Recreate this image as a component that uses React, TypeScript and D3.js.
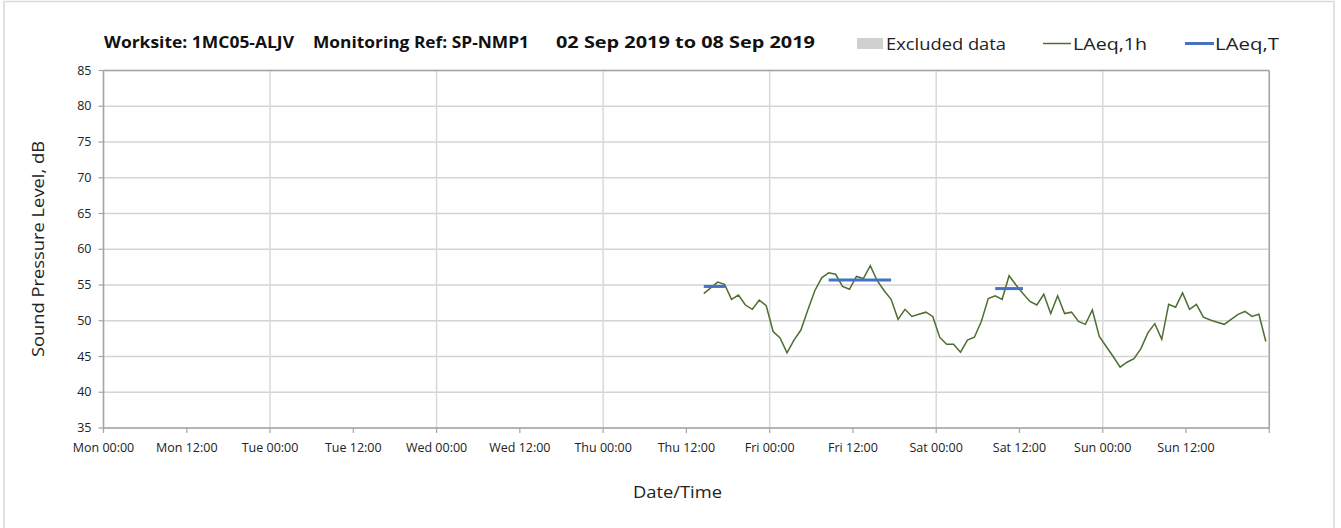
import React from "react";
import * as d3 from "d3";

const W = 1341;
const H = 528;

// Tick labels every 12 hours, Mon 00:00 .. Sun 12:00
const xTickLabels = [
  "Mon 00:00", "Mon 12:00", "Tue 00:00", "Tue 12:00", "Wed 00:00", "Wed 12:00",
  "Thu 00:00", "Thu 12:00", "Fri 00:00", "Fri 12:00", "Sat 00:00", "Sat 12:00",
  "Sun 00:00", "Sun 12:00",
];
const yTicks = [35, 40, 45, 50, 55, 60, 65, 70, 75, 80, 85];

// Hourly LAeq,1h values, first at Thu 14:30 (hour 86.5 from Mon 00:00)
const laeqStartHour = 86.5;
const laeq1h = [
  53.8, 54.6, 55.4, 55.1, 53.0, 53.6, 52.2, 51.6, 52.9, 52.1,
  48.5, 47.6, 45.5, 47.3, 48.7, 51.5, 54.2, 56.0, 56.7, 56.5,
  54.8, 54.4, 56.2, 55.9, 57.7, 55.6, 54.2, 53.0, 50.2, 51.6,
  50.6, 50.9, 51.2, 50.6, 47.7, 46.7, 46.7, 45.6, 47.3, 47.7,
  49.9, 53.1, 53.5, 53.0, 56.3, 55.0, 53.8, 52.7, 52.2, 53.7,
  51.0, 53.5, 51.0, 51.2, 49.9, 49.5, 51.5, 47.8, 46.4, 45.0,
  43.5, 44.2, 44.7, 46.1, 48.3, 49.6, 47.4, 52.3, 51.9, 53.9,
  51.6, 52.3, 50.5, 50.1, 49.8, 49.5, 50.2, 50.9, 51.3, 50.6,
  50.9, 47.1,
];

// LAeq,T periods: start hour, end hour, level
const laeqTStart = [86.5, 104.5, 128.5];
const laeqTEnd = [89.6, 113.5, 132.5];
const laeqTValue = [54.8, 55.7, 54.5];

const FONT = "'Open Sans', 'Noto Sans', sans-serif";

export default function App() {
  const left = 103.5;
  const right = 1269.3;
  const top = 70.5;
  const bottom = 428;

  const x = d3.scaleLinear().domain([0, 168]).range([left, right]);
  const y = d3.scaleLinear().domain([35, 85]).range([bottom, top]);

  const pts: [number, number][] = laeq1h.map((v, i) => [laeqStartHour + i, v]);
  const line = d3
    .line<[number, number]>()
    .x((d) => x(d[0]))
    .y((d) => y(d[1]));

  const dayTicks = d3.range(0, 169, 24);
  const halfTicks = d3.range(0, 169, 12);

  return (
    <svg
      width={W}
      height={H}
      style={{ position: "absolute", left: 0, top: 0, background: "#fff" }}
      fontFamily={FONT}
    >
      {/* outer frame */}
      <rect x={4} y={1.5} width={1330} height={540} fill="#fff" stroke="#d9d9d9" strokeWidth={1.5} />

      {/* horizontal gridlines */}
      {yTicks.map((t) => (
        <line key={"hg" + t} x1={left} x2={right} y1={y(t)} y2={y(t)} stroke="#d4d4d4" strokeWidth={1.5} />
      ))}
      {/* vertical gridlines at day boundaries */}
      {dayTicks.map((t) => (
        <line key={"vg" + t} x1={x(t)} x2={x(t)} y1={top} y2={bottom} stroke="#d9d9d9" strokeWidth={1.5} />
      ))}

      {/* plot border: top and right */}
      <line x1={left} x2={right} y1={top} y2={top} stroke="#a6a6a6" strokeWidth={1.5} />
      <line x1={right} x2={right} y1={top} y2={bottom} stroke="#a6a6a6" strokeWidth={1.5} />

      {/* y axis */}
      <line x1={left} x2={left} y1={top} y2={bottom + 1} stroke="#a6a6a6" strokeWidth={1.5} />
      {yTicks.map((t) => (
        <g key={"yt" + t}>
          <line x1={left - 5} x2={left} y1={y(t)} y2={y(t)} stroke="#a6a6a6" strokeWidth={1.2} />
          <text x={left - 12} y={y(t) + 4} textAnchor="end" fontSize={12.5} fill="#222">
            {t}
          </text>
        </g>
      ))}

      {/* x axis */}
      <line x1={left} x2={right} y1={bottom} y2={bottom} stroke="#a6a6a6" strokeWidth={1.5} />
      {halfTicks.map((t) => (
        <line key={"xt" + t} x1={x(t)} x2={x(t)} y1={bottom} y2={bottom + 5} stroke="#a6a6a6" strokeWidth={1.2} />
      ))}
      {xTickLabels.map((lab, i) => (
        <text key={"xl" + i} x={x(i * 12)} y={452} textAnchor="middle" fontSize={12.5} fill="#222">
          {lab}
        </text>
      ))}

      {/* data */}
      <path d={line(pts) || ""} fill="none" stroke="#4e6e31" strokeWidth={1.5} />
      {laeqTValue.map((v, i) => (
        <line
          key={"lt" + i}
          x1={x(laeqTStart[i])}
          x2={x(laeqTEnd[i])}
          y1={y(v)}
          y2={y(v)}
          stroke="#4472c4"
          strokeWidth={3}
        />
      ))}

      {/* axis titles */}
      <text x={633} y={498} fontSize={17} fill="#222" textLength={89} lengthAdjust="spacingAndGlyphs">
        Date/Time
      </text>
      <text
        transform={`translate(44, 357) rotate(-90)`}
        fontSize={17}
        fill="#222"
        textLength={216}
        lengthAdjust="spacingAndGlyphs"
      >
        Sound Pressure Level, dB
      </text>

      {/* title */}
      <g fontWeight="bold" fontSize={16.5} fill="#111">
        <text x={104} y={48} textLength={190} lengthAdjust="spacingAndGlyphs">Worksite: 1MC05-ALJV</text>
        <text x={313} y={48} textLength={216} lengthAdjust="spacingAndGlyphs">Monitoring Ref: SP-NMP1</text>
        <text x={556} y={48} textLength={259} lengthAdjust="spacingAndGlyphs">02 Sep 2019 to 08 Sep 2019</text>
      </g>

      {/* legend */}
      <rect x={857} y={38} width={26} height={11} fill="#d0d0d0" />
      <text x={886} y={50} fontSize={17} fill="#222" textLength={120} lengthAdjust="spacingAndGlyphs">Excluded data</text>
      <line x1={1043} x2={1071} y1={43.5} y2={43.5} stroke="#4e6e31" strokeWidth={1.5} />
      <text x={1073} y={50} fontSize={17} fill="#222" textLength={74} lengthAdjust="spacingAndGlyphs">LAeq,1h</text>
      <line x1={1185} x2={1214} y1={43.5} y2={43.5} stroke="#4472c4" strokeWidth={3} />
      <text x={1215} y={50} fontSize={17} fill="#222" textLength={64} lengthAdjust="spacingAndGlyphs">LAeq,T</text>
    </svg>
  );
}
